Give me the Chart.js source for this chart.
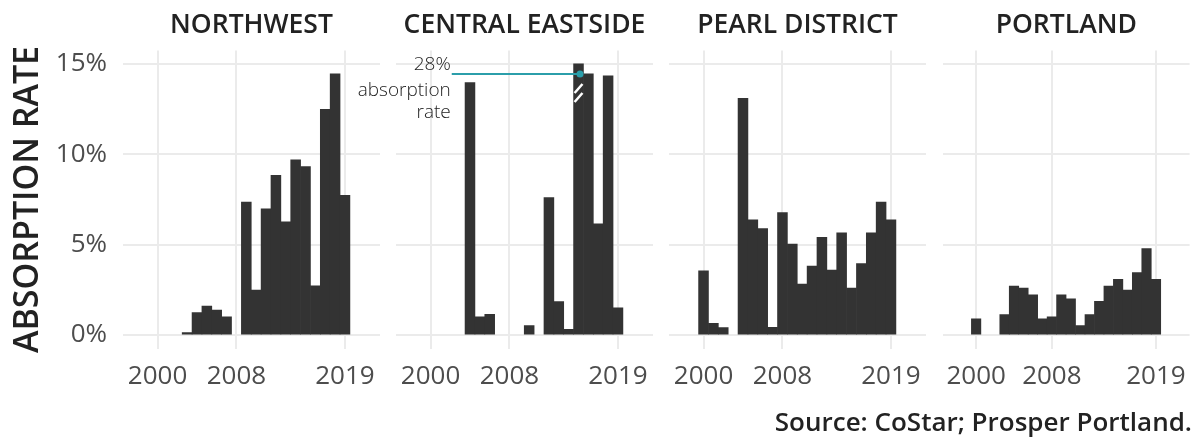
<!DOCTYPE html>
<html>
<head>
<meta charset="utf-8">
<script src="https://cdn.jsdelivr.net/npm/chart.js@4.4.1/dist/chart.umd.min.js"></script>
<style>
  html, body { margin: 0; padding: 0; background: #fff; }
  #wrap { position: relative; width: 1199px; height: 437px; overflow: hidden; }
  #wrap canvas { position: absolute; left: 0; top: 0; }
  #source {
    position: absolute; right: 7px; top: 408px;
    font: 600 26px 'Open Sans', sans-serif; line-height: 1; color: #222;
    white-space: nowrap;
  }
</style>
</head>
<body>
<div id="wrap">
  <canvas id="p0" width="1199" height="437"></canvas>
  <canvas id="p1" width="1199" height="437"></canvas>
  <canvas id="p2" width="1199" height="437"></canvas>
  <canvas id="p3" width="1199" height="437"></canvas>
  <div id="source">Source: CoStar; Prosper Portland.</div>
</div>
<script>
'use strict';

// Absorption rate (%) by year for each area
var years = [2000, 2001, 2002, 2003, 2004, 2005, 2006, 2007, 2008, 2009,
             2010, 2011, 2012, 2013, 2014, 2015, 2016, 2017, 2018, 2019];
var northwest       = [0, 0, 0, 0.13, 1.24, 1.6, 1.38, 1.01, 0, 7.36,
                       2.49, 6.99, 8.84, 6.27, 9.7, 9.32, 2.73, 12.49, 14.45, 7.73];
var centralEastside = [0, 0, 0, 0, 13.97, 1.01, 1.14, 0, 0, 0,
                       0.52, 0, 7.6, 1.85, 0.31, 28, 14.45, 6.16, 14.34, 1.51];
var pearlDistrict   = [3.56, 0.65, 0.41, 0, 13.1, 6.37, 5.89, 0.42, 6.77, 5.04,
                       2.82, 3.82, 5.41, 3.6, 5.66, 2.6, 3.95, 5.66, 7.36, 6.38];
var portland        = [0.9, 0, 0, 1.13, 2.71, 2.6, 2.23, 0.9, 1.01, 2.23,
                       2.01, 0.52, 1.13, 1.86, 2.71, 3.08, 2.49, 3.45, 4.78, 3.08];

var panelNames = ['NORTHWEST', 'CENTRAL EASTSIDE', 'PEARL DISTRICT', 'PORTLAND'];
var panelData = [northwest, centralEastside, pearlDistrict, portland];
var xTicks = [2000, 2008, 2019];
var yTicks = [0, 5, 10, 15];
var yCap = 15;                 // bars above this are cut at the top of the panel
var noteLines = ['28%', 'absorption', 'rate'];
var noteYear = 2015;

// Layout of the facets (page pixels)
var W = 1199;
var panelLeft = [123, 396, 669, 943];
var panelWidth = 257;
var tickFont = { family: 'Open Sans', size: 26, weight: '400' };
var tickColor = '#4d4d4d';
var gridColor = '#ebebeb';

// Callout for the clipped Central Eastside bar
var notePlugin = {
    id: 'note',
    afterDraw: function (chart) {
        var ctx = chart.ctx;
        var xs = chart.scales.x;
        var bar = chart.getDatasetMeta(0).data[years.indexOf(noteYear)];
        var left = bar.x - bar.width / 2, right = bar.x + bar.width / 2;
        ctx.save();

        // break marks
        ctx.strokeStyle = '#ffffff';
        ctx.lineWidth = 2.5;
        [20, 29].forEach(function (d) {
            ctx.beginPath();
            ctx.moveTo(right - 1, bar.y + d);
            ctx.lineTo(left + 1, bar.y + d + 9);
            ctx.stroke();
        });

        // leader line + dot
        var y = bar.y + 10;
        var x0 = xs.getPixelForValue(2002.15);
        var x1 = bar.x + 1.5;
        ctx.strokeStyle = '#2b9eaa';
        ctx.lineWidth = 2;
        ctx.beginPath();
        ctx.moveTo(x0, y);
        ctx.lineTo(x1, y);
        ctx.stroke();
        ctx.fillStyle = '#2b9eaa';
        ctx.beginPath();
        ctx.arc(x1, y, 3.5, 0, Math.PI * 2);
        ctx.fill();

        // label
        ctx.fillStyle = '#222222';
        ctx.font = '300 19px "Open Sans"';
        ctx.textAlign = 'right';
        ctx.textBaseline = 'alphabetic';
        [-4, 22, 44].forEach(function (d, k) {
            ctx.fillText(noteLines[k], x0 - 1, y + d);
        });
        ctx.restore();
    }
};

function makePanel(i) {
    var first = i === 0;
    var values = panelData[i];
    return new Chart(document.getElementById('p' + i), {
        type: 'bar',
        data: {
            datasets: [{
                data: years.map(function (yr, k) {
                    return { x: yr, y: values[k] ? Math.min(values[k], yCap) : null };
                }),
                backgroundColor: '#333333',
                borderWidth: 0,
                categoryPercentage: 1,
                barPercentage: 1
            }]
        },
        options: {
            responsive: false,
            animation: false,
            layout: {
                padding: {
                    left: first ? 0 : panelLeft[i],
                    right: W - panelLeft[i] - panelWidth,
                    top: 0,
                    bottom: 0
                }
            },
            plugins: {
                legend: { display: false },
                tooltip: { enabled: false },
                title: {
                    display: true,
                    text: panelNames[i],
                    fullSize: false,
                    color: '#222222',
                    font: { family: 'Open Sans', size: 26.5, weight: '600', lineHeight: 1.2 },
                    padding: { top: 10, bottom: 8.6 }
                }
            },
            scales: {
                x: {
                    type: 'linear',
                    offset: false,
                    min: 1996.5,
                    max: 2022.55,
                    afterBuildTicks: function (scale) {
                        scale.ticks = xTicks.map(function (v) { return { value: v }; });
                    },
                    afterFit: function (scale) { scale.height = 88.4; },
                    ticks: {
                        font: tickFont,
                        color: tickColor,
                        padding: 12,
                        maxRotation: 0,
                        autoSkip: false,
                        callback: function (v) { return String(v); }
                    },
                    grid: { offset: false, color: gridColor, lineWidth: 2, drawTicks: false },
                    border: { display: false }
                },
                y: {
                    min: -0.75,
                    max: 15.75,
                    afterBuildTicks: function (scale) {
                        scale.ticks = yTicks.map(function (v) { return { value: v }; });
                    },
                    afterFit: function (scale) { scale.width = first ? 123 : 0; },
                    ticks: {
                        display: first,
                        font: tickFont,
                        color: tickColor,
                        padding: 16,
                        callback: function (v) { return v + '%'; }
                    },
                    title: {
                        display: first,
                        text: 'ABSORPTION RATE',
                        color: '#222222',
                        font: { family: 'Open Sans', size: 34, weight: '600', lineHeight: 1.2 },
                        padding: { top: 8, bottom: 0 }
                    },
                    grid: { color: gridColor, lineWidth: 2, drawTicks: false },
                    border: { display: false }
                }
            }
        },
        plugins: i === 1 ? [notePlugin] : []
    });
}

for (var i = 0; i < 4; i++) {
    makePanel(i);
}
</script>
</body>
</html>
